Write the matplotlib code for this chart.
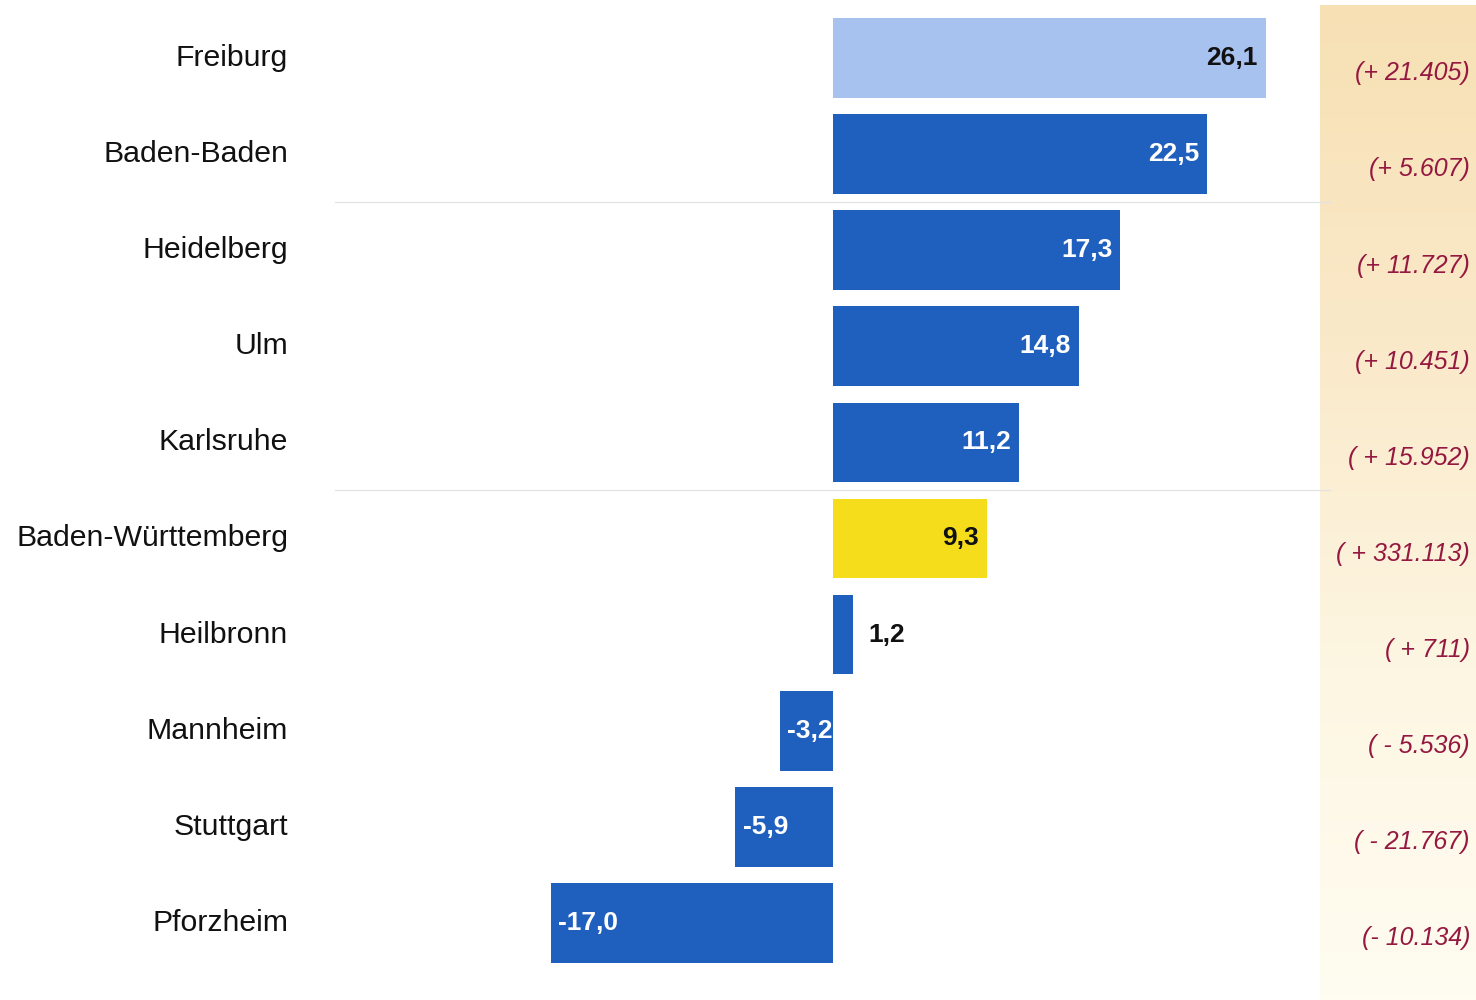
import numpy as np
import matplotlib.pyplot as plt
from matplotlib.colors import LinearSegmentedColormap

plt.rcParams["font.family"] = ["Liberation Sans", "DejaVu Sans"]

CITIES = ["Freiburg", "Baden-Baden", "Heidelberg", "Ulm", "Karlsruhe",
          "Baden-Württemberg", "Heilbronn", "Mannheim", "Stuttgart", "Pforzheim"]
CHANGE_PCT = [26.1, 22.5, 17.3, 14.8, 11.2, 9.3, 1.2, -3.2, -5.9, -17.0]
CHANGE_ABS = ["(+ 21.405)", "(+ 5.607)", "(+ 11.727)", "(+ 10.451)", "( + 15.952)",
              "( + 331.113)", "( + 711)", "( - 5.536)", "( - 21.767)", "(- 10.134)"]

BLUE = "#1f5fbd"
LIGHT_BLUE = "#a8c2f0"
YELLOW = "#f6dd1c"
RED_TEXT = "#951840"

# pixel layout helpers (figure is 1476 x 1000 px)
PX_ZERO = 833
PX_PER_UNIT = 16.6
ROW_TOP = 58
ROW_STEP = 96.1


def px_x(px):
    return (px - PX_ZERO) / PX_PER_UNIT


def px_y(px):
    return (px - ROW_TOP) / ROW_STEP


fig = plt.figure(figsize=(14.76, 10), dpi=100, facecolor="white")
ax = fig.add_axes([0, 0, 1, 1])
ax.set_xlim(px_x(0), px_x(1476))
ax.set_ylim(px_y(1000), px_y(0))
ax.axis("off")

# cream/orange band on the right
cmap = LinearSegmentedColormap.from_list("band", ["#f7e0b4", "#fae9c9", "#fdf6e2", "#fffcf1"])
grad = np.linspace(0, 1, 256).reshape(-1, 1)
ax.imshow(grad, cmap=cmap, aspect="auto", zorder=0,
          extent=(px_x(1320), px_x(1476), px_y(1000), px_y(6)))

# separator lines
for y in (1.5, 4.5):
    ax.plot([px_x(335), px_x(1330)], [y, y], color="#e2e2e2", lw=0.9, zorder=1)

ypos = np.arange(len(CITIES))
colors = [LIGHT_BLUE] + [BLUE] * 4 + [YELLOW] + [BLUE] * 4
ax.barh(ypos, CHANGE_PCT, height=0.83, color=colors, zorder=2)

for i, (city, val, absval) in enumerate(zip(CITIES, CHANGE_PCT, CHANGE_ABS)):
    ax.text(px_x(288), i, city, ha="right", va="center", fontsize=21.8, color="#111111")
    lab = f"{val:.1f}".replace(".", ",")
    if i == 0 or i == 5:
        ax.text(val - 0.5, i, lab, ha="right", va="center", fontsize=19,
                fontweight="bold", color="#111111", zorder=3)
    elif val > 5:
        ax.text(val - 0.45, i, lab, ha="right", va="center", fontsize=19,
                fontweight="bold", color="white", zorder=3)
    elif val > 0:
        ax.text(val + 0.95, i, lab, ha="left", va="center", fontsize=19,
                fontweight="bold", color="#111111", zorder=3)
    else:
        ax.text(val + 0.45, i, lab, ha="left", va="center", fontsize=19,
                fontweight="bold", color="white", zorder=3)
    ax.text(px_x(1470), i + 0.16, absval, ha="right", va="center", fontsize=18,
            style="italic", color=RED_TEXT, zorder=3)

fig.savefig("out.png", dpi=100, facecolor="white")
